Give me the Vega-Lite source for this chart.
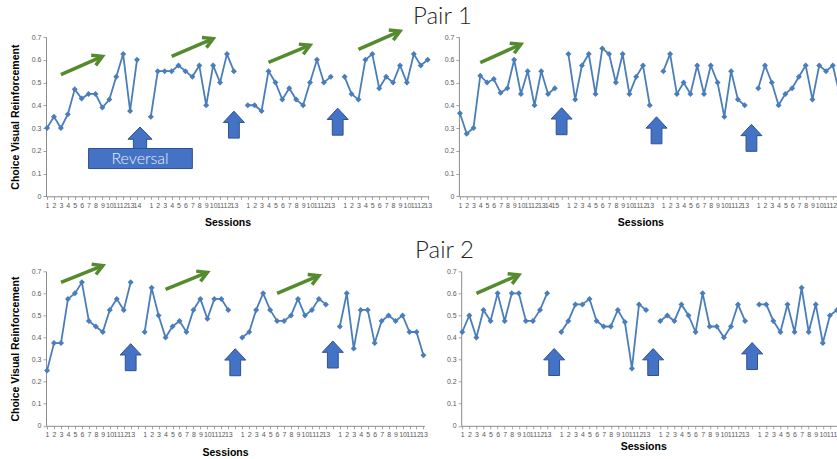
{
  "$schema": "https://vega.github.io/schema/vega-lite/v6.json",
  "background": "white",
  "padding": {"left": 10, "top": 5, "right": 0, "bottom": 0},
  "bounds": "full",
  "spacing": 9.3,
  "config": {
    "view": {"stroke": null},
    "font": "Liberation Sans",
    "axis": {"domainColor": "#8c8c8c", "tickColor": "#8c8c8c", "labelColor": "#595959", "labelFontSize": 7, "labelFont": "Liberation Sans", "titleFont": "Liberation Sans", "titleFontSize": 10.5, "titleFontWeight": "bold", "titleColor": "#000000", "grid": false, "tickSize": 3, "labelPadding": 2, "domainWidth": 1, "tickWidth": 0.8},
    "axisX": {"labelAngle": 0, "labelOverlap": false, "labelFlush": false, "labelBound": false},
    "title": {"font": "Lato", "fontSize": 24, "fontWeight": 300, "color": "#262626", "anchor": "middle", "baseline": "alphabetic", "frame": "group"}
  },
  "datasets": {
    "series": [
      {"p":"A","ph":1,"k":"1-1","v":0.30},{"p":"A","ph":1,"k":"1-2","v":0.35},{"p":"A","ph":1,"k":"1-3","v":0.30},{"p":"A","ph":1,"k":"1-4","v":0.36},{"p":"A","ph":1,"k":"1-5","v":0.47},{"p":"A","ph":1,"k":"1-6","v":0.43},{"p":"A","ph":1,"k":"1-7","v":0.45},{"p":"A","ph":1,"k":"1-8","v":0.45},{"p":"A","ph":1,"k":"1-9","v":0.39},{"p":"A","ph":1,"k":"1-10","v":0.425},{"p":"A","ph":1,"k":"1-11","v":0.525},{"p":"A","ph":1,"k":"1-12","v":0.625},{"p":"A","ph":1,"k":"1-13","v":0.375},{"p":"A","ph":1,"k":"1-14","v":0.60},
      {"p":"A","ph":2,"k":"2-1","v":0.35},{"p":"A","ph":2,"k":"2-2","v":0.55},{"p":"A","ph":2,"k":"2-3","v":0.55},{"p":"A","ph":2,"k":"2-4","v":0.55},{"p":"A","ph":2,"k":"2-5","v":0.575},{"p":"A","ph":2,"k":"2-6","v":0.55},{"p":"A","ph":2,"k":"2-7","v":0.525},{"p":"A","ph":2,"k":"2-8","v":0.575},{"p":"A","ph":2,"k":"2-9","v":0.40},{"p":"A","ph":2,"k":"2-10","v":0.575},{"p":"A","ph":2,"k":"2-11","v":0.50},{"p":"A","ph":2,"k":"2-12","v":0.625},{"p":"A","ph":2,"k":"2-13","v":0.55},
      {"p":"A","ph":3,"k":"3-1","v":0.40},{"p":"A","ph":3,"k":"3-2","v":0.40},{"p":"A","ph":3,"k":"3-3","v":0.375},{"p":"A","ph":3,"k":"3-4","v":0.55},{"p":"A","ph":3,"k":"3-5","v":0.50},{"p":"A","ph":3,"k":"3-6","v":0.425},{"p":"A","ph":3,"k":"3-7","v":0.475},{"p":"A","ph":3,"k":"3-8","v":0.425},{"p":"A","ph":3,"k":"3-9","v":0.40},{"p":"A","ph":3,"k":"3-10","v":0.50},{"p":"A","ph":3,"k":"3-11","v":0.60},{"p":"A","ph":3,"k":"3-12","v":0.50},{"p":"A","ph":3,"k":"3-13","v":0.525},
      {"p":"A","ph":4,"k":"4-1","v":0.525},{"p":"A","ph":4,"k":"4-2","v":0.45},{"p":"A","ph":4,"k":"4-3","v":0.425},{"p":"A","ph":4,"k":"4-4","v":0.60},{"p":"A","ph":4,"k":"4-5","v":0.625},{"p":"A","ph":4,"k":"4-6","v":0.475},{"p":"A","ph":4,"k":"4-7","v":0.525},{"p":"A","ph":4,"k":"4-8","v":0.50},{"p":"A","ph":4,"k":"4-9","v":0.575},{"p":"A","ph":4,"k":"4-10","v":0.50},{"p":"A","ph":4,"k":"4-11","v":0.625},{"p":"A","ph":4,"k":"4-12","v":0.575},{"p":"A","ph":4,"k":"4-13","v":0.60},

      {"p":"B","ph":1,"k":"1-1","v":0.365},{"p":"B","ph":1,"k":"1-2","v":0.275},{"p":"B","ph":1,"k":"1-3","v":0.30},{"p":"B","ph":1,"k":"1-4","v":0.53},{"p":"B","ph":1,"k":"1-5","v":0.50},{"p":"B","ph":1,"k":"1-6","v":0.515},{"p":"B","ph":1,"k":"1-7","v":0.455},{"p":"B","ph":1,"k":"1-8","v":0.475},{"p":"B","ph":1,"k":"1-9","v":0.60},{"p":"B","ph":1,"k":"1-10","v":0.45},{"p":"B","ph":1,"k":"1-11","v":0.55},{"p":"B","ph":1,"k":"1-12","v":0.40},{"p":"B","ph":1,"k":"1-13","v":0.55},{"p":"B","ph":1,"k":"1-14","v":0.45},{"p":"B","ph":1,"k":"1-15","v":0.475},
      {"p":"B","ph":2,"k":"2-1","v":0.625},{"p":"B","ph":2,"k":"2-2","v":0.425},{"p":"B","ph":2,"k":"2-3","v":0.575},{"p":"B","ph":2,"k":"2-4","v":0.625},{"p":"B","ph":2,"k":"2-5","v":0.45},{"p":"B","ph":2,"k":"2-6","v":0.65},{"p":"B","ph":2,"k":"2-7","v":0.625},{"p":"B","ph":2,"k":"2-8","v":0.50},{"p":"B","ph":2,"k":"2-9","v":0.625},{"p":"B","ph":2,"k":"2-10","v":0.45},{"p":"B","ph":2,"k":"2-11","v":0.525},{"p":"B","ph":2,"k":"2-12","v":0.575},{"p":"B","ph":2,"k":"2-13","v":0.40},
      {"p":"B","ph":3,"k":"3-1","v":0.55},{"p":"B","ph":3,"k":"3-2","v":0.625},{"p":"B","ph":3,"k":"3-3","v":0.45},{"p":"B","ph":3,"k":"3-4","v":0.50},{"p":"B","ph":3,"k":"3-5","v":0.45},{"p":"B","ph":3,"k":"3-6","v":0.575},{"p":"B","ph":3,"k":"3-7","v":0.45},{"p":"B","ph":3,"k":"3-8","v":0.575},{"p":"B","ph":3,"k":"3-9","v":0.50},{"p":"B","ph":3,"k":"3-10","v":0.35},{"p":"B","ph":3,"k":"3-11","v":0.55},{"p":"B","ph":3,"k":"3-12","v":0.425},{"p":"B","ph":3,"k":"3-13","v":0.40},
      {"p":"B","ph":4,"k":"4-1","v":0.475},{"p":"B","ph":4,"k":"4-2","v":0.575},{"p":"B","ph":4,"k":"4-3","v":0.50},{"p":"B","ph":4,"k":"4-4","v":0.40},{"p":"B","ph":4,"k":"4-5","v":0.45},{"p":"B","ph":4,"k":"4-6","v":0.475},{"p":"B","ph":4,"k":"4-7","v":0.525},{"p":"B","ph":4,"k":"4-8","v":0.575},{"p":"B","ph":4,"k":"4-9","v":0.425},{"p":"B","ph":4,"k":"4-10","v":0.575},{"p":"B","ph":4,"k":"4-11","v":0.55},{"p":"B","ph":4,"k":"4-12","v":0.575},{"p":"B","ph":4,"k":"4-13","v":0.45},

      {"p":"C","ph":1,"k":"1-1","v":0.25},{"p":"C","ph":1,"k":"1-2","v":0.375},{"p":"C","ph":1,"k":"1-3","v":0.375},{"p":"C","ph":1,"k":"1-4","v":0.575},{"p":"C","ph":1,"k":"1-5","v":0.60},{"p":"C","ph":1,"k":"1-6","v":0.65},{"p":"C","ph":1,"k":"1-7","v":0.475},{"p":"C","ph":1,"k":"1-8","v":0.45},{"p":"C","ph":1,"k":"1-9","v":0.425},{"p":"C","ph":1,"k":"1-10","v":0.525},{"p":"C","ph":1,"k":"1-11","v":0.575},{"p":"C","ph":1,"k":"1-12","v":0.525},{"p":"C","ph":1,"k":"1-13","v":0.65},
      {"p":"C","ph":2,"k":"2-1","v":0.425},{"p":"C","ph":2,"k":"2-2","v":0.625},{"p":"C","ph":2,"k":"2-3","v":0.50},{"p":"C","ph":2,"k":"2-4","v":0.40},{"p":"C","ph":2,"k":"2-5","v":0.45},{"p":"C","ph":2,"k":"2-6","v":0.475},{"p":"C","ph":2,"k":"2-7","v":0.425},{"p":"C","ph":2,"k":"2-8","v":0.525},{"p":"C","ph":2,"k":"2-9","v":0.575},{"p":"C","ph":2,"k":"2-10","v":0.485},{"p":"C","ph":2,"k":"2-11","v":0.575},{"p":"C","ph":2,"k":"2-12","v":0.575},{"p":"C","ph":2,"k":"2-13","v":0.525},
      {"p":"C","ph":3,"k":"3-1","v":0.40},{"p":"C","ph":3,"k":"3-2","v":0.425},{"p":"C","ph":3,"k":"3-3","v":0.525},{"p":"C","ph":3,"k":"3-4","v":0.60},{"p":"C","ph":3,"k":"3-5","v":0.525},{"p":"C","ph":3,"k":"3-6","v":0.475},{"p":"C","ph":3,"k":"3-7","v":0.475},{"p":"C","ph":3,"k":"3-8","v":0.50},{"p":"C","ph":3,"k":"3-9","v":0.575},{"p":"C","ph":3,"k":"3-10","v":0.50},{"p":"C","ph":3,"k":"3-11","v":0.525},{"p":"C","ph":3,"k":"3-12","v":0.575},{"p":"C","ph":3,"k":"3-13","v":0.55},
      {"p":"C","ph":4,"k":"4-1","v":0.45},{"p":"C","ph":4,"k":"4-2","v":0.60},{"p":"C","ph":4,"k":"4-3","v":0.35},{"p":"C","ph":4,"k":"4-4","v":0.525},{"p":"C","ph":4,"k":"4-5","v":0.525},{"p":"C","ph":4,"k":"4-6","v":0.375},{"p":"C","ph":4,"k":"4-7","v":0.475},{"p":"C","ph":4,"k":"4-8","v":0.50},{"p":"C","ph":4,"k":"4-9","v":0.475},{"p":"C","ph":4,"k":"4-10","v":0.50},{"p":"C","ph":4,"k":"4-11","v":0.425},{"p":"C","ph":4,"k":"4-12","v":0.425},{"p":"C","ph":4,"k":"4-13","v":0.32},

      {"p":"D","ph":1,"k":"1-1","v":0.425},{"p":"D","ph":1,"k":"1-2","v":0.50},{"p":"D","ph":1,"k":"1-3","v":0.40},{"p":"D","ph":1,"k":"1-4","v":0.525},{"p":"D","ph":1,"k":"1-5","v":0.475},{"p":"D","ph":1,"k":"1-6","v":0.60},{"p":"D","ph":1,"k":"1-7","v":0.475},{"p":"D","ph":1,"k":"1-8","v":0.60},{"p":"D","ph":1,"k":"1-9","v":0.60},{"p":"D","ph":1,"k":"1-10","v":0.475},{"p":"D","ph":1,"k":"1-11","v":0.475},{"p":"D","ph":1,"k":"1-12","v":0.525},{"p":"D","ph":1,"k":"1-13","v":0.60},
      {"p":"D","ph":2,"k":"2-1","v":0.425},{"p":"D","ph":2,"k":"2-2","v":0.475},{"p":"D","ph":2,"k":"2-3","v":0.55},{"p":"D","ph":2,"k":"2-4","v":0.55},{"p":"D","ph":2,"k":"2-5","v":0.575},{"p":"D","ph":2,"k":"2-6","v":0.475},{"p":"D","ph":2,"k":"2-7","v":0.45},{"p":"D","ph":2,"k":"2-8","v":0.45},{"p":"D","ph":2,"k":"2-9","v":0.525},{"p":"D","ph":2,"k":"2-10","v":0.47},{"p":"D","ph":2,"k":"2-11","v":0.26},{"p":"D","ph":2,"k":"2-12","v":0.55},{"p":"D","ph":2,"k":"2-13","v":0.525},
      {"p":"D","ph":3,"k":"3-1","v":0.475},{"p":"D","ph":3,"k":"3-2","v":0.50},{"p":"D","ph":3,"k":"3-3","v":0.475},{"p":"D","ph":3,"k":"3-4","v":0.55},{"p":"D","ph":3,"k":"3-5","v":0.50},{"p":"D","ph":3,"k":"3-6","v":0.425},{"p":"D","ph":3,"k":"3-7","v":0.60},{"p":"D","ph":3,"k":"3-8","v":0.45},{"p":"D","ph":3,"k":"3-9","v":0.45},{"p":"D","ph":3,"k":"3-10","v":0.40},{"p":"D","ph":3,"k":"3-11","v":0.45},{"p":"D","ph":3,"k":"3-12","v":0.55},{"p":"D","ph":3,"k":"3-13","v":0.475},
      {"p":"D","ph":4,"k":"4-1","v":0.55},{"p":"D","ph":4,"k":"4-2","v":0.55},{"p":"D","ph":4,"k":"4-3","v":0.475},{"p":"D","ph":4,"k":"4-4","v":0.425},{"p":"D","ph":4,"k":"4-5","v":0.55},{"p":"D","ph":4,"k":"4-6","v":0.425},{"p":"D","ph":4,"k":"4-7","v":0.625},{"p":"D","ph":4,"k":"4-8","v":0.425},{"p":"D","ph":4,"k":"4-9","v":0.55},{"p":"D","ph":4,"k":"4-10","v":0.375},{"p":"D","ph":4,"k":"4-11","v":0.50},{"p":"D","ph":4,"k":"4-12","v":0.525}
    ],
    "notes": [
      {"p":"A","t":"g","k":"1-3","v":0.535,"k2":"1-9","v2":0.615},
      {"p":"A","t":"g","k":"2-4","v":0.615,"k2":"2-10","v2":0.693},
      {"p":"A","t":"g","k":"3-4","v":0.589,"k2":"3-10","v2":0.664},
      {"p":"A","t":"g","k":"4-3","v":0.646,"k2":"4-9","v2":0.726},
      {"p":"A","t":"h","k":"1-9","v":0.615},
      {"p":"A","t":"h","k":"2-10","v":0.693},
      {"p":"A","t":"h","k":"3-10","v":0.664},
      {"p":"A","t":"h","k":"4-9","v":0.726},
      {"p":"A","t":"r","k":"1-14","v":0.257},
      {"p":"A","t":"box","k":"1-7","k2":"2-7","v":0.21,"v2":0.122},
      {"p":"A","t":"txt","k":"1-14","v":0.165,"label":"Reversal"},
      {"p":"A","t":"b","k":"2-13","v":0.315},
      {"p":"A","t":"b","k":"g3","v":0.328},
      {"p":"B","t":"g","k":"1-4","v":0.587,"k2":"1-10","v2":0.668},
      {"p":"B","t":"h","k":"1-10","v":0.668},
      {"p":"B","t":"b","k":"g1","v":0.330},
      {"p":"B","t":"b","k":"g2","v":0.290},
      {"p":"B","t":"b","k":"g3","v":0.257},
      {"p":"C","t":"g","k":"1-3","v":0.650,"k2":"1-9","v2":0.726},
      {"p":"C","t":"g","k":"2-4","v":0.618,"k2":"2-10","v2":0.695},
      {"p":"C","t":"g","k":"3-6","v":0.600,"k2":"3-12","v2":0.680},
      {"p":"C","t":"h","k":"1-9","v":0.726},
      {"p":"C","t":"h","k":"2-10","v":0.695},
      {"p":"C","t":"h","k":"3-12","v":0.680},
      {"p":"C","t":"b","k":"1-13","v":0.311},
      {"p":"C","t":"b","k":"g2","v":0.288},
      {"p":"C","t":"b","k":"g3","v":0.323},
      {"p":"D","t":"g","k":"1-3","v":0.600,"k2":"1-9","v2":0.684},
      {"p":"D","t":"h","k":"1-9","v":0.684},
      {"p":"D","t":"b","k":"g1","v":0.289},
      {"p":"D","t":"b","k":"g2","v":0.289},
      {"p":"D","t":"b","k":"g3","v":0.316}
    ]
  },
  "vconcat": [
    {
      "title": {"text": "Pair 1", "offset": -6.3, "dx": 396.4},
      "bounds": "flush",
      "spacing": 29.9,
      "hconcat": [
        {
          "width": 382.7, "height": 159.3,
          "encoding": {
            "x": {"field": "k", "type": "ordinal", "scale": {"type": "point", "padding": 0.15, "domain": ["1-1","1-2","1-3","1-4","1-5","1-6","1-7","1-8","1-9","1-10","1-11","1-12","1-13","1-14","g1","2-1","2-2","2-3","2-4","2-5","2-6","2-7","2-8","2-9","2-10","2-11","2-12","2-13","g2","3-1","3-2","3-3","3-4","3-5","3-6","3-7","3-8","3-9","3-10","3-11","3-12","3-13","g3","4-1","4-2","4-3","4-4","4-5","4-6","4-7","4-8","4-9","4-10","4-11","4-12","4-13"]},
              "axis": {"title": "Sessions", "titleX": 181.5, "titleY": 26.5, "titleBaseline": "middle", "labelExpr": "indexof(datum.value, '-') > 0 ? split(datum.value, '-')[1] : ''"}},
            "y": {"field": "v", "type": "quantitative", "scale": {"domain": [0, 0.7], "nice": false}, "axis": {"values": [0,0.1,0.2,0.3,0.4,0.5,0.6,0.7], "format": ".1~f", "title": "Choice Visual Reinforcement", "titlePadding": 10.5}}
          },
          "layer": [
            {"data": {"name": "notes"}, "transform": [{"filter": "datum.p == 'A' && datum.t == 'r'"}], "mark": {"type": "point", "shape": "M0,-0.9L1,0.12L0.55,0.12L0.55,0.9L-0.55,0.9L-0.55,0.12L-1,0.12Z", "size": 576, "filled": true, "fill": "#4472C4", "stroke": "#2F528F", "strokeWidth": 1, "opacity": 1, "xOffset": 3}},
            {"data": {"name": "notes"}, "transform": [{"filter": "datum.p == 'A' && datum.t == 'box'"}], "mark": {"type": "rect", "fill": "#4472C4", "stroke": "#2F528F", "strokeWidth": 1}, "encoding": {"x2": {"field": "k2"}, "y2": {"field": "v2"}}},
            {"data": {"name": "notes"}, "transform": [{"filter": "datum.p == 'A' && datum.t == 'txt'"}], "mark": {"type": "text", "font": "Lato", "fontSize": 16, "fontWeight": 300, "color": "#E8EEF8", "dx": 3, "baseline": "middle"}, "encoding": {"text": {"field": "label"}}},
            {"data": {"name": "notes"}, "transform": [{"filter": "datum.p == 'A' && datum.t == 'b'"}], "mark": {"type": "point", "shape": "M0,-1L0.78,-0.16L0.4,-0.16L0.4,1L-0.4,1L-0.4,-0.16L-0.78,-0.16Z", "size": 729, "filled": true, "fill": "#4472C4", "stroke": "#2F528F", "strokeWidth": 1, "opacity": 1}},
            {"data": {"name": "notes"}, "transform": [{"filter": "datum.p == 'A' && datum.t == 'g'"}], "mark": {"type": "rule", "color": "#558B2F", "strokeWidth": 3.5}, "encoding": {"x2": {"field": "k2"}, "y2": {"field": "v2"}}},
            {"data": {"name": "notes"}, "transform": [{"filter": "datum.p == 'A' && datum.t == 'h'"}], "mark": {"type": "point", "shape": "M-1.15,-0.65L0,0L-1.15,0.65", "size": 290, "filled": false, "stroke": "#558B2F", "strokeWidth": 3.5, "opacity": 1, "angle": -24, "strokeJoin": "miter"}},
            {"data": {"name": "series"}, "transform": [{"filter": "datum.p == 'A'"}], "mark": {"type": "line", "color": "#4A7EBB", "strokeWidth": 1.8, "point": {"filled": true, "shape": "diamond", "size": 36, "opacity": 1, "color": "#4A7EBB"}}, "encoding": {"detail": {"field": "ph"}}}
          ]
        },
        {
          "width": 381.7, "height": 159.3,
          "encoding": {
            "x": {"field": "k", "type": "ordinal", "scale": {"type": "point", "padding": 0.15, "domain": ["1-1","1-2","1-3","1-4","1-5","1-6","1-7","1-8","1-9","1-10","1-11","1-12","1-13","1-14","1-15","g1","2-1","2-2","2-3","2-4","2-5","2-6","2-7","2-8","2-9","2-10","2-11","2-12","2-13","g2","3-1","3-2","3-3","3-4","3-5","3-6","3-7","3-8","3-9","3-10","3-11","3-12","3-13","g3","4-1","4-2","4-3","4-4","4-5","4-6","4-7","4-8","4-9","4-10","4-11","4-12","4-13"]},
              "axis": {"title": "Sessions", "titleX": 181.5, "titleY": 26.5, "titleBaseline": "middle", "labelExpr": "indexof(datum.value, '-') > 0 ? split(datum.value, '-')[1] : ''"}},
            "y": {"field": "v", "type": "quantitative", "scale": {"domain": [0, 0.7], "nice": false}, "axis": {"values": [0,0.1,0.2,0.3,0.4,0.5,0.6,0.7], "format": ".1~f", "title": null}}
          },
          "layer": [
            {"data": {"name": "notes"}, "transform": [{"filter": "datum.p == 'B' && datum.t == 'b'"}], "mark": {"type": "point", "shape": "M0,-1L0.78,-0.16L0.4,-0.16L0.4,1L-0.4,1L-0.4,-0.16L-0.78,-0.16Z", "size": 729, "filled": true, "fill": "#4472C4", "stroke": "#2F528F", "strokeWidth": 1, "opacity": 1}},
            {"data": {"name": "notes"}, "transform": [{"filter": "datum.p == 'B' && datum.t == 'g'"}], "mark": {"type": "rule", "color": "#558B2F", "strokeWidth": 3.5}, "encoding": {"x2": {"field": "k2"}, "y2": {"field": "v2"}}},
            {"data": {"name": "notes"}, "transform": [{"filter": "datum.p == 'B' && datum.t == 'h'"}], "mark": {"type": "point", "shape": "M-1.15,-0.65L0,0L-1.15,0.65", "size": 290, "filled": false, "stroke": "#558B2F", "strokeWidth": 3.5, "opacity": 1, "angle": -24, "strokeJoin": "miter"}},
            {"data": {"name": "series"}, "transform": [{"filter": "datum.p == 'B'"}], "mark": {"type": "line", "color": "#4A7EBB", "strokeWidth": 1.8, "point": {"filled": true, "shape": "diamond", "size": 36, "opacity": 1, "color": "#4A7EBB"}}, "encoding": {"detail": {"field": "ph"}}}
          ]
        }
      ]
    },
    {
      "title": {"text": "Pair 2", "offset": -5.3, "dx": 398.5},
      "bounds": "flush",
      "spacing": 36.2,
      "hconcat": [
        {
          "width": 378.5, "height": 154.5,
          "encoding": {
            "x": {"field": "k", "type": "ordinal", "scale": {"type": "point", "padding": 0.15, "domain": ["1-1","1-2","1-3","1-4","1-5","1-6","1-7","1-8","1-9","1-10","1-11","1-12","1-13","g1","2-1","2-2","2-3","2-4","2-5","2-6","2-7","2-8","2-9","2-10","2-11","2-12","2-13","g2","3-1","3-2","3-3","3-4","3-5","3-6","3-7","3-8","3-9","3-10","3-11","3-12","3-13","g3","4-1","4-2","4-3","4-4","4-5","4-6","4-7","4-8","4-9","4-10","4-11","4-12","4-13"]},
              "axis": {"title": "Sessions", "titleX": 179, "titleY": 26.4, "titleBaseline": "middle", "labelExpr": "indexof(datum.value, '-') > 0 ? split(datum.value, '-')[1] : ''"}},
            "y": {"field": "v", "type": "quantitative", "scale": {"domain": [0, 0.7], "nice": false}, "axis": {"values": [0,0.1,0.2,0.3,0.4,0.5,0.6,0.7], "format": ".1~f", "title": "Choice Visual Reinforcement", "titlePadding": 10.5}}
          },
          "layer": [
            {"data": {"name": "notes"}, "transform": [{"filter": "datum.p == 'C' && datum.t == 'b'"}], "mark": {"type": "point", "shape": "M0,-1L0.78,-0.16L0.4,-0.16L0.4,1L-0.4,1L-0.4,-0.16L-0.78,-0.16Z", "size": 729, "filled": true, "fill": "#4472C4", "stroke": "#2F528F", "strokeWidth": 1, "opacity": 1}},
            {"data": {"name": "notes"}, "transform": [{"filter": "datum.p == 'C' && datum.t == 'g'"}], "mark": {"type": "rule", "color": "#558B2F", "strokeWidth": 3.5}, "encoding": {"x2": {"field": "k2"}, "y2": {"field": "v2"}}},
            {"data": {"name": "notes"}, "transform": [{"filter": "datum.p == 'C' && datum.t == 'h'"}], "mark": {"type": "point", "shape": "M-1.15,-0.65L0,0L-1.15,0.65", "size": 290, "filled": false, "stroke": "#558B2F", "strokeWidth": 3.5, "opacity": 1, "angle": -23, "strokeJoin": "miter"}},
            {"data": {"name": "series"}, "transform": [{"filter": "datum.p == 'C'"}], "mark": {"type": "line", "color": "#4A7EBB", "strokeWidth": 1.8, "point": {"filled": true, "shape": "diamond", "size": 36, "opacity": 1, "color": "#4A7EBB"}}, "encoding": {"detail": {"field": "ph"}}}
          ]
        },
        {
          "width": 383.9, "height": 154.5,
          "encoding": {
            "x": {"field": "k", "type": "ordinal", "scale": {"type": "point", "padding": 0.15, "domain": ["1-1","1-2","1-3","1-4","1-5","1-6","1-7","1-8","1-9","1-10","1-11","1-12","1-13","g1","2-1","2-2","2-3","2-4","2-5","2-6","2-7","2-8","2-9","2-10","2-11","2-12","2-13","g2","3-1","3-2","3-3","3-4","3-5","3-6","3-7","3-8","3-9","3-10","3-11","3-12","3-13","g3","4-1","4-2","4-3","4-4","4-5","4-6","4-7","4-8","4-9","4-10","4-11","4-12","4-13"]},
              "axis": {"title": "Sessions", "titleX": 182, "titleY": 20.7, "titleBaseline": "middle", "labelExpr": "indexof(datum.value, '-') > 0 ? split(datum.value, '-')[1] : ''"}},
            "y": {"field": "v", "type": "quantitative", "scale": {"domain": [0, 0.7], "nice": false}, "axis": {"values": [0,0.1,0.2,0.3,0.4,0.5,0.6,0.7], "format": ".1~f", "title": null}}
          },
          "layer": [
            {"data": {"name": "notes"}, "transform": [{"filter": "datum.p == 'D' && datum.t == 'b'"}], "mark": {"type": "point", "shape": "M0,-1L0.78,-0.16L0.4,-0.16L0.4,1L-0.4,1L-0.4,-0.16L-0.78,-0.16Z", "size": 729, "filled": true, "fill": "#4472C4", "stroke": "#2F528F", "strokeWidth": 1, "opacity": 1}},
            {"data": {"name": "notes"}, "transform": [{"filter": "datum.p == 'D' && datum.t == 'g'"}], "mark": {"type": "rule", "color": "#558B2F", "strokeWidth": 3.5}, "encoding": {"x2": {"field": "k2"}, "y2": {"field": "v2"}}},
            {"data": {"name": "notes"}, "transform": [{"filter": "datum.p == 'D' && datum.t == 'h'"}], "mark": {"type": "point", "shape": "M-1.15,-0.65L0,0L-1.15,0.65", "size": 290, "filled": false, "stroke": "#558B2F", "strokeWidth": 3.5, "opacity": 1, "angle": -24, "strokeJoin": "miter"}},
            {"data": {"name": "series"}, "transform": [{"filter": "datum.p == 'D'"}], "mark": {"type": "line", "color": "#4A7EBB", "strokeWidth": 1.8, "point": {"filled": true, "shape": "diamond", "size": 36, "opacity": 1, "color": "#4A7EBB"}}, "encoding": {"detail": {"field": "ph"}}}
          ]
        }
      ]
    }
  ]
}
